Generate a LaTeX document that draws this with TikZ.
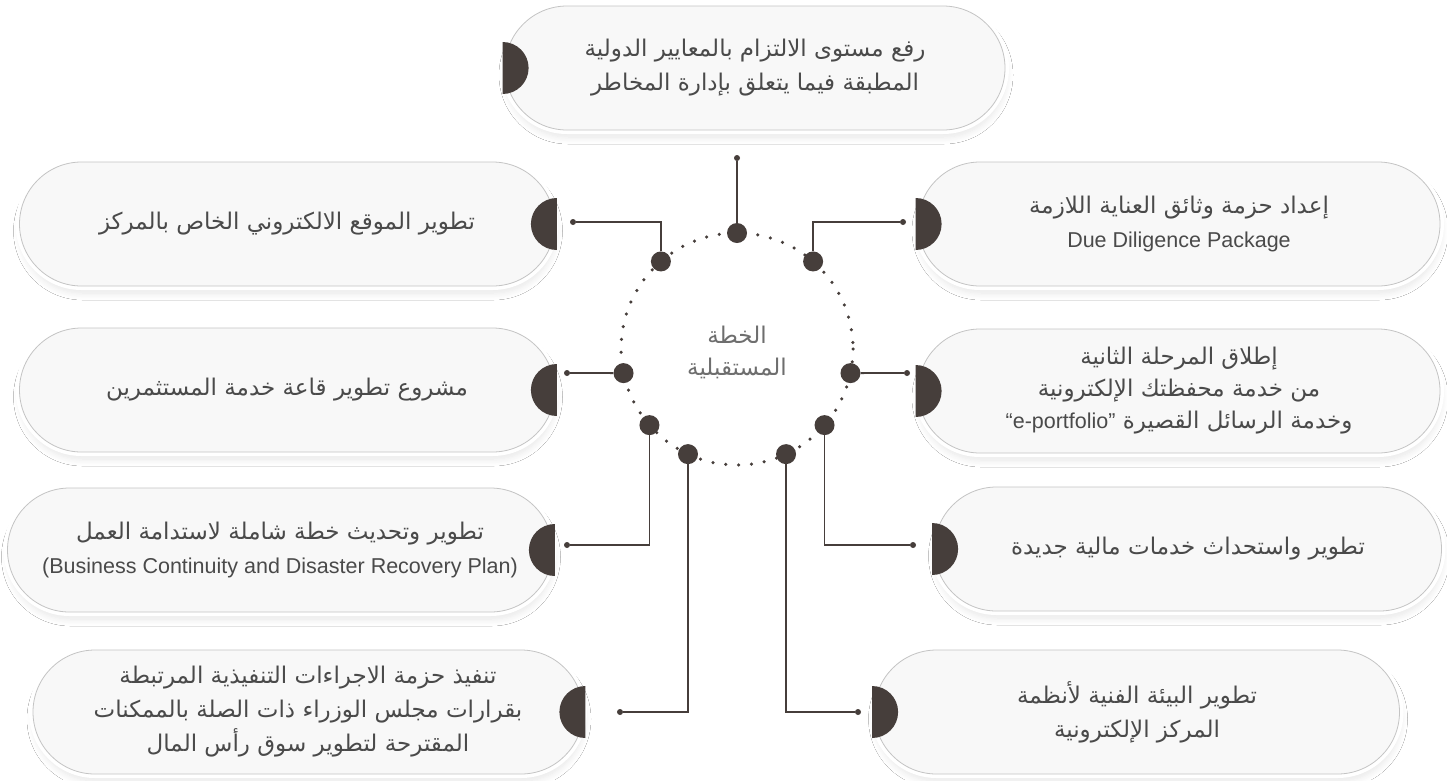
\documentclass[tikz,border=0pt]{standalone}
\usepackage{fontspec}
\setmainfont{Liberation Sans}
\newfontfamily\arabicfont[Script=Arabic]{DejaVu Sans}
\TeXXeTstate=1
\usetikzlibrary{shapes.misc,calc,shadows.blur}
\definecolor{Ink}{HTML}{463E3B}
\definecolor{TextGray}{HTML}{4A4A4A}
\definecolor{SoftGray}{HTML}{6E6E6E}
\definecolor{BoxFill}{HTML}{F8F8F8}
\definecolor{BoxLine}{HTML}{C4C4C4}
\newcommand{\arline}[1]{{\arabicfont\beginR #1\endR}}
\newcommand{\latin}[1]{{\rmfamily\fontsize{21.5}{34}\selectfont #1}}
% dark half discs on the pill ends
\newcommand{\lensleft}[1]{\fill[Ink] ([xshift=2pt]#1.east) ++(0,-26) arc[start angle=-90,end angle=-270,radius=26] -- cycle;}
\newcommand{\lensright}[1]{\fill[Ink] ([xshift=-2pt]#1.west) ++(0,-26) arc[start angle=-90,end angle=90,radius=26] -- cycle;}
\tikzset{
  pill/.style={rounded rectangle,minimum height=124pt,inner sep=0pt,draw=BoxLine,line width=0.8pt,
               fill=BoxFill,align=center,font=\fontsize{23}{34}\selectfont,text=TextGray,
               blur shadow={shadow xshift=1pt,shadow yshift=-7pt,shadow blur radius=7pt,
                            shadow blur steps=10,shadow opacity=10},
               preaction={draw=white,line width=8pt}},
  hub/.style={circle,fill=Ink,inner sep=0pt,minimum size=20pt},
  tip/.style={circle,fill=Ink,inner sep=0pt,minimum size=6pt},
  link/.style={draw=Ink,line width=1.8pt},
  ring/.style={draw=Ink,line width=3.5pt,line cap=round,dash pattern=on 0pt off 12.9pt},
  title/.style={align=center,font=\fontsize{23}{32}\selectfont,text=SoftGray}
}

\begin{document}
\begin{tikzpicture}[x=1pt,y=-1pt]
  \useasboundingbox[fill=white] (0,0) rectangle (1447,780);

  % boxes
  \node[pill,minimum width=500pt] (risk) at (755,68)
    {\arline{رفع مستوى الالتزام بالمعايير الدولية}\\\arline{المطبقة فيما يتعلق بإدارة المخاطر}};
  \node[pill,minimum width=535pt] (website) at (287,224)
    {\arline{تطوير الموقع الالكتروني الخاص بالمركز}};
  \node[pill,minimum width=522pt] (diligence) at (1179,224)
    {\arline{إعداد حزمة وثائق العناية اللازمة}\\\latin{Due Diligence Package}};
  \node[pill,minimum width=535pt] (hall) at (287,390)
    {\arline{مشروع تطوير قاعة خدمة المستثمرين}};
  \node[pill,minimum width=522pt,font=\fontsize{23}{32}\selectfont] (portfolio) at (1179,391)
    {\arline{إطلاق المرحلة الثانية}\\\arline{من خدمة محفظتك الإلكترونية}\\
     \arline{وخدمة الرسائل القصيرة \beginL\latin{“e-portfolio"}\endL}};
  \node[pill,minimum width=545pt] (continuity) at (280,550)
    {\arline{تطوير وتحديث خطة شاملة لاستدامة العمل}\\\latin{(Business Continuity and Disaster Recovery Plan)}};
  \node[pill,minimum width=507pt] (services) at (1188,549)
    {\arline{تطوير واستحداث خدمات مالية جديدة}};
  \node[pill,minimum width=550pt] (decrees) at (308,712)
    {\arline{تنفيذ حزمة الاجراءات التنفيذية المرتبطة}\\\arline{بقرارات مجلس الوزراء ذات الصلة بالممكنات}\\
     \arline{المقترحة لتطوير سوق رأس المال}};
  \node[pill,minimum width=525pt] (systems) at (1137,712)
    {\arline{تطوير البيئة الفنية لأنظمة}\\\arline{المركز الإلكترونية}};

  \lensright{risk}
  \lensleft{website}
  \lensright{diligence}
  \lensleft{hall}
  \lensright{portfolio}
  \lensleft{continuity}
  \lensright{services}
  \lensleft{decrees}
  \lensright{systems}

  % centre ring
  \coordinate (c) at (737,349);
  \draw[ring] (c) circle[radius=116];
  \node[title] (plan) at (737,352) {\arline{الخطة}\\\arline{المستقبلية}};

  \node[hub] (hRisk) at ([shift={(-90:116)}]c) {};
  \node[hub] (hWeb) at ([shift={(-131:116)}]c) {};
  \node[hub] (hDil) at ([shift={(-49:116)}]c) {};
  \node[hub] (hHall) at ([shift={(168:116)}]c) {};
  \node[hub] (hPort) at ([shift={(12:116)}]c) {};
  \node[hub] (hCont) at ([shift={(139:116)}]c) {};
  \node[hub] (hDec) at ([shift={(115:116)}]c) {};
  \node[hub] (hSys) at ([shift={(65:116)}]c) {};
  \node[hub] (hServ) at ([shift={(41:116)}]c) {};

  \node[tip] (tRisk) at (737,158) {};
  \node[tip] (tWeb) at (573,222) {};
  \node[tip] (tDil) at (903,222) {};
  \node[tip] (tHall) at (567,373) {};
  \node[tip] (tPort) at (907,373) {};
  \node[tip] (tCont) at (567,545) {};
  \node[tip] (tDec) at (620,712) {};
  \node[tip] (tSys) at (858,712) {};
  \node[tip] (tServ) at (913,545) {};

  % connectors
  \draw[link] (hRisk) -- (tRisk);
  \draw[link] (hWeb) |- (tWeb);
  \draw[link] (hDil) |- (tDil);
  \draw[link] (hHall) -- (tHall);
  \draw[link] (hPort) -- (tPort);
  \draw[link] (hCont) |- (tCont);
  \draw[link] (hDec) |- (tDec);
  \draw[link] (hSys) |- (tSys);
  \draw[link] (hServ) |- (tServ);
\end{tikzpicture}
\end{document}
